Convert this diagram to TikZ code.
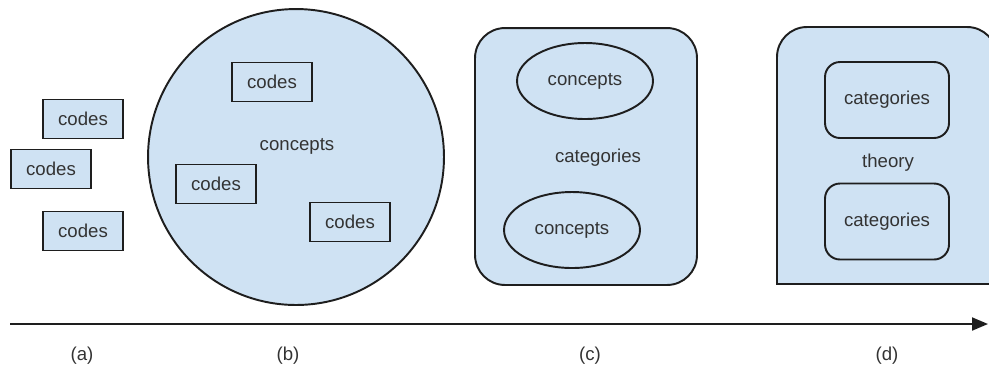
\documentclass[tikz,border=0pt]{standalone}
\usepackage{fontspec}
\setmainfont{Liberation Sans}
\usetikzlibrary{shapes.geometric,arrows.meta}
\definecolor{lblue}{HTML}{CFE2F3}
\definecolor{ink}{HTML}{1E1E1E}
\definecolor{txt}{HTML}{333333}
\begin{document}
\begin{tikzpicture}[x=0.02cm,y=-0.02cm,
  every node/.style={font=\fontsize{10.6}{12}\selectfont, text=txt},
  shape box/.style={draw=ink, line width=1.1pt, fill=lblue},
  code/.style={shape box, minimum width=1.6cm, minimum height=0.78cm, inner sep=0pt},
  conc/.style={shape box, ellipse, minimum width=2.72cm, minimum height=1.52cm},
  cat/.style={shape box, rounded corners=0.3cm, minimum width=2.48cm, minimum height=1.52cm}]
\useasboundingbox (0,0) rectangle (989,370);
% (a)
\node[code] (ca1) at (83,119) {codes};
\node[code] (ca2) at (51,169) {codes};
\node[code] (ca3) at (83,231) {codes};
% (b)
\node[shape box, circle, minimum size=5.92cm] (circb) at (296,157) {};
\node (lblb) at (297,146) {concepts};
\node[code] (cb1) at (272,82) {codes};
\node[code] (cb2) at (216,184) {codes};
\node[code] (cb3) at (350,222) {codes};
% (c)
\node[shape box, rounded corners=0.6cm, minimum width=4.44cm, minimum height=5.14cm] (rectc) at (586,156.5) {};
\node (lblc) at (598,158) {categories};
\node[conc] (cc1) at (585,81) {concepts};
\node[conc] (cc2) at (572,230) {concepts};
% (d)
\draw[shape box] (777,284) {[rounded corners=0.6cm] -- (777,27) -- (997,27)} -- (997,284) -- cycle;
\node (lbld) at (888,163) {theory};
\node[cat] (cd1) at (887,100) {categories};
\node[cat] (cd2) at (887,221.5) {categories};
% time line
\coordinate (t0) at (10,324);
\coordinate (t1) at (988,324);
\draw[ink, line width=1.1pt, -{Triangle[length=0.32cm,width=0.26cm]}] (t0) -- (t1);
\node (la) at (82,356) {(a)};
\node (lb) at (288,356) {(b)};
\node (lc) at (590,356) {(c)};
\node (ld) at (887,356) {(d)};
\end{tikzpicture}
\end{document}
